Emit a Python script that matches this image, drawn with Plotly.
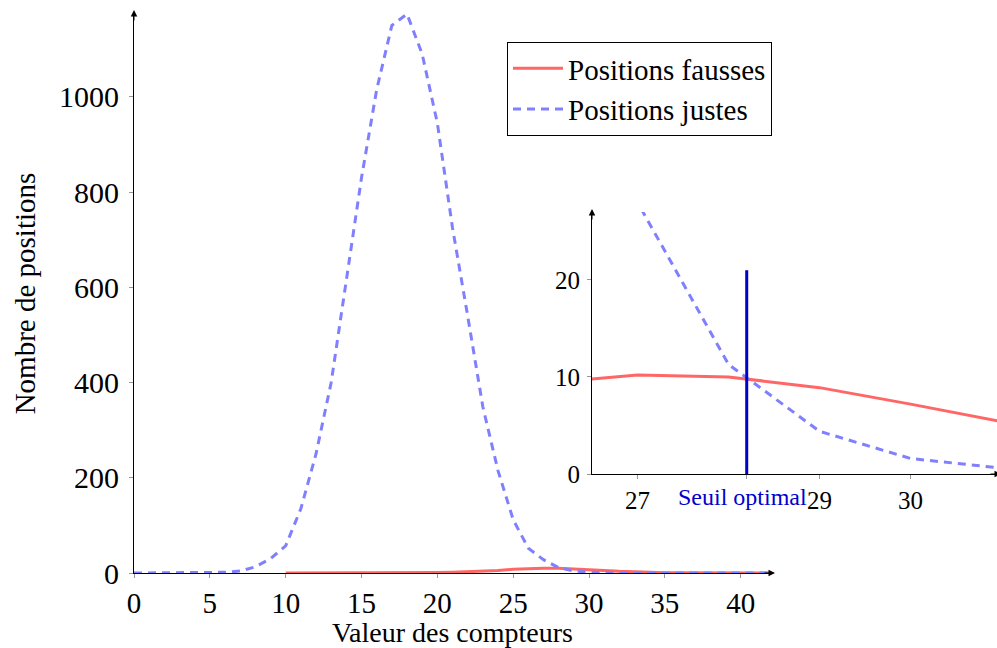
import plotly.graph_objects as go

# ---------------- data ----------------
x_true = list(range(0, 43))
y_true = [0, 0, 0, 0, 0, 0.5, 1.5, 4, 13, 30,
          57, 135, 250, 400, 615, 830, 1015, 1150, 1174, 1090,
          945, 725, 540, 349, 215, 112, 52, 28, 11.3, 4.4,
          1.6, 0.6, 0.3, 0.1, 0, 0, 0, 0, 0, 0,
          0, 0, 0]

x_false = list(range(10, 43))
y_false = [0, 0, 0, 0, 0.1, 0.2, 0.3, 0.4, 0.6, 0.8,
           1.1, 1.6, 2.4, 3.6, 5.2, 7.8, 9.4, 10.2, 10.0, 8.9,
           7.2, 5.3, 3.6, 2.2, 1.3, 0.7, 0.4, 0.2, 0.1, 0.1,
           0, 0, 0]

seuil = 28.2
seuil_top = 21

main_xticks = [0, 5, 10, 15, 20, 25, 30, 35, 40]
main_yticks = [0, 200, 400, 600, 800, 1000]
inset_xticks = [27, 29, 30]
inset_yticks = [0, 10, 20]
inset_xrange = [26.5, 30.95]
inset_yrange = [0, 27]

name_false = "Positions fausses"
name_true = "Positions justes"
xtitle = "Valeur des compteurs"
ytitle = "Nombre de positions"
seuil_label = "Seuil optimal"

# ---------------- styles ----------------
RED = "#FF6666"
BLUE = "#8080FF"
DARKBLUE = "#0000CC"
FONT = "Liberation Serif"
DASH = "8px,6px"

fig = go.Figure()

# main plot
fig.add_trace(go.Scatter(x=x_false, y=y_false, mode="lines", name=name_false,
                         line=dict(color=RED, width=3), xaxis="x", yaxis="y"))
fig.add_trace(go.Scatter(x=x_true, y=y_true, mode="lines", name=name_true,
                         line=dict(color=BLUE, width=3, dash=DASH), xaxis="x", yaxis="y"))

# inset
fig.add_trace(go.Scatter(x=x_false, y=y_false, mode="lines", showlegend=False,
                         line=dict(color=RED, width=3), xaxis="x2", yaxis="y2"))
fig.add_trace(go.Scatter(x=x_true, y=y_true, mode="lines", showlegend=False,
                         line=dict(color=BLUE, width=3, dash=DASH), xaxis="x2", yaxis="y2"))
fig.add_trace(go.Scatter(x=[seuil, seuil], y=[0, seuil_top], mode="lines", showlegend=False,
                         line=dict(color=DARKBLUE, width=3), xaxis="x2", yaxis="y2"))

W, H = 997, 648
axis_common = dict(showline=True, linecolor="black", linewidth=1, showgrid=False,
                   zeroline=False, ticks="outside", ticklen=4, tickcolor="#999999",
                   tickwidth=1, automargin=False)

fig.update_layout(
    width=W, height=H,
    margin=dict(l=0, r=0, t=0, b=0, autoexpand=False),
    paper_bgcolor="white", plot_bgcolor="rgba(0,0,0,0)",
    font=dict(family=FONT, size=28, color="black"),
    xaxis=dict(domain=[134 / W, 771 / W], range=[0, max(x_true)], tickvals=main_xticks,
               anchor="y", ticklabelstandoff=0,
               title=dict(text=xtitle, font=dict(size=28), standoff=3),
               tickfont=dict(size=29), **axis_common),
    yaxis=dict(domain=[75 / H, 634 / H], range=[0, max(y_true)], tickvals=main_yticks,
               anchor="x", ticklabelstandoff=4,
               title=dict(text=ytitle, font=dict(size=29), standoff=14),
               tickfont=dict(size=30), **axis_common),
    xaxis2=dict(domain=[592 / W, 1.0], range=inset_xrange, tickvals=inset_xticks + [seuil],
                ticktext=[str(v) for v in inset_xticks] + [""],
                anchor="y2", ticklabelstandoff=0, tickfont=dict(size=25), **axis_common),
    yaxis2=dict(domain=[174 / H, 436 / H], range=inset_yrange, tickvals=inset_yticks,
                anchor="x2", ticklabelstandoff=2, tickfont=dict(size=25), **axis_common),
    legend=dict(x=507 / W, y=1 - 42 / H, xanchor="left", yanchor="top",
                bgcolor="white", bordercolor="black", borderwidth=1,
                font=dict(family=FONT, size=29), itemwidth=50,
                tracegroupgap=0),
    showlegend=True,
)

arrow = dict(text="", showarrow=True, arrowhead=2, arrowsize=1.3, arrowwidth=1,
             arrowcolor="black")
fig.add_annotation(xref="x domain", yref="y domain", x=1, y=0, ax=-12, ay=0,
                   xshift=4, **arrow)
fig.add_annotation(xref="x domain", yref="y domain", x=0, y=1, ax=0, ay=12,
                   yshift=4, **arrow)
fig.add_annotation(xref="x2 domain", yref="y2 domain", x=1, y=0, ax=-12, ay=0,
                   xshift=4, **arrow)
fig.add_annotation(xref="x2 domain", yref="y2 domain", x=0, y=1, ax=0, ay=12,
                   yshift=3, **arrow)

fig.add_annotation(xref="x2", yref="y2 domain", x=seuil, y=0, yshift=-23, xshift=-4,
                   xanchor="center", yanchor="middle", showarrow=False,
                   text=seuil_label, font=dict(family=FONT, size=24, color=DARKBLUE))

fig.write_html("out.html")
